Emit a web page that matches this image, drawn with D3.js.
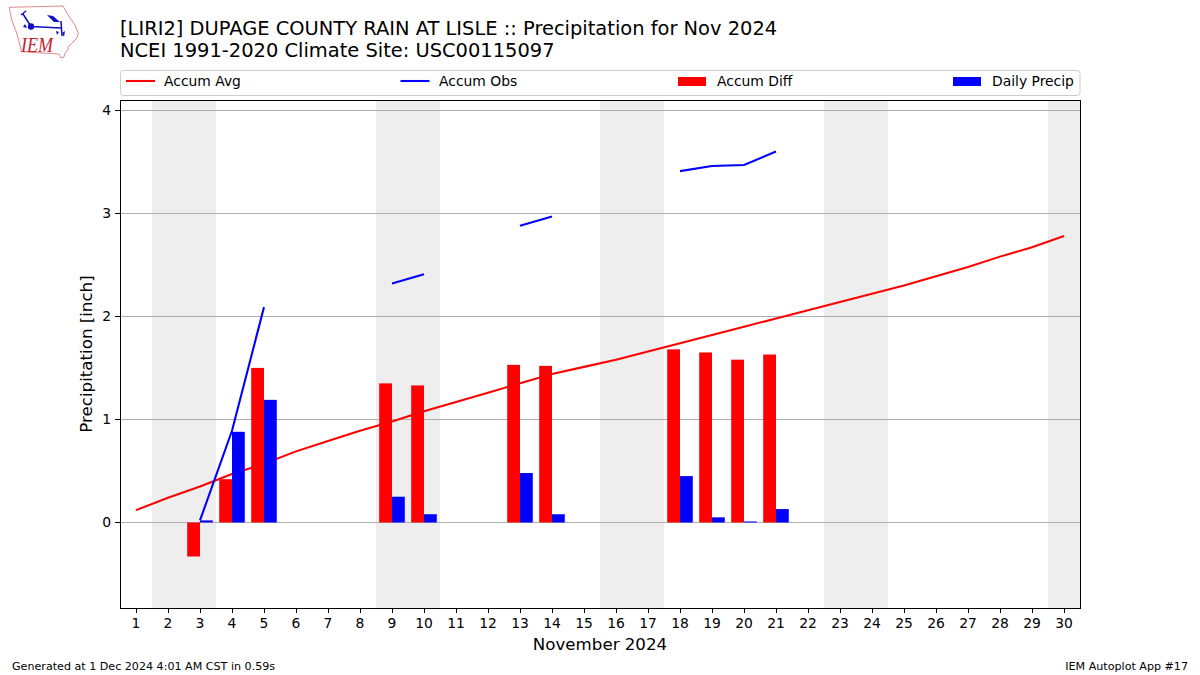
<!DOCTYPE html>
<html>
<head>
<meta charset="utf-8">
<script src="https://cdn.jsdelivr.net/npm/d3@7"></script>
<style>
  body { margin: 0; background: #fff; }
  text { font-family: "DejaVu Sans", sans-serif; fill: #000; }
</style>
</head>
<body>
<svg id="chart" width="1200" height="675"></svg>
<script>
const days = d3.range(1, 31);
const accumAvg = [0.12, 0.24, 0.35, 0.47, 0.57, 0.69, 0.79, 0.89, 0.98, 1.08, 1.17, 1.26, 1.35, 1.44, 1.51,
                  1.58, 1.66, 1.74, 1.82, 1.90, 1.98, 2.06, 2.14, 2.22, 2.30, 2.39, 2.48, 2.58, 2.67, 2.78];
const accumObs = [null, null, 0.02, 0.89, 2.09, null, null, null, 2.32, 2.41, null, null, 2.88, 2.97, null,
                  null, null, 3.41, 3.46, 3.47, 3.60, null, null, null, null, null, null, null, null, null];
const accumDiff = [null, null, -0.33, 0.42, 1.50, null, null, null, 1.35, 1.33, null, null, 1.53, 1.52, null,
                   null, null, 1.68, 1.65, 1.58, 1.63, null, null, null, null, null, null, null, null, null];
const dailyPrecip = [null, null, 0.02, 0.88, 1.19, null, null, null, 0.25, 0.08, null, null, 0.48, 0.08, null,
                     null, null, 0.45, 0.05, 0.01, 0.13, null, null, null, null, null, null, null, null, null];
const weekends = [[1.5, 3.5], [8.5, 10.5], [15.5, 17.5], [22.5, 24.5], [29.5, 30.5]];
const yTicks = [0, 1, 2, 3, 4];

const svg = d3.select("#chart");
const left = 120, right = 1080, top_ = 100, bottom = 608;

const x = d3.scaleLinear().domain([0.5, 30.5]).range([left, right]);
const y = d3.scaleLinear().domain([-0.83, 4.1]).range([bottom, top_]);
const barW = x(1.4) - x(1);
const crisp = v => Math.floor(v) + 0.5;

// weekend bands
svg.append("g").selectAll("rect").data(weekends).join("rect")
    .attr("x", d => x(d[0]))
    .attr("width", d => x(d[1]) - x(d[0]))
    .attr("y", top_)
    .attr("height", bottom - top_)
    .attr("fill", "#eeeeee");

// grid
svg.append("g").selectAll("line").data(yTicks).join("line")
    .attr("x1", left).attr("x2", right)
    .attr("y1", d => crisp(y(d))).attr("y2", d => crisp(y(d)))
    .attr("stroke", "#b0b0b0").attr("stroke-width", 1);

// lines
const line = d3.line().defined(d => d[1] != null).x(d => x(d[0])).y(d => y(d[1]));
svg.append("path").attr("d", line(days.map((d, i) => [d, accumAvg[i]])))
    .attr("fill", "none").attr("stroke", "#ff0000").attr("stroke-width", 2.08);
svg.append("path").attr("d", line(days.map((d, i) => [d, accumObs[i]])))
    .attr("fill", "none").attr("stroke", "#0000ff").attr("stroke-width", 2.08);

// bars
svg.append("g").selectAll("rect").data(days.filter((d, i) => accumDiff[i] != null)).join("rect")
    .attr("x", d => x(d) - barW)
    .attr("width", barW)
    .attr("y", d => Math.min(y(0), y(accumDiff[d - 1])))
    .attr("height", d => Math.abs(y(0) - y(accumDiff[d - 1])))
    .attr("fill", "#ff0000");
svg.append("g").selectAll("rect").data(days.filter((d, i) => dailyPrecip[i] != null)).join("rect")
    .attr("x", d => x(d))
    .attr("width", barW)
    .attr("y", d => y(dailyPrecip[d - 1]))
    .attr("height", d => y(0) - y(dailyPrecip[d - 1]))
    .attr("fill", "#0000ff");

// axes
const xAxis = svg.append("g").attr("transform", `translate(0,${bottom})`)
    .call(d3.axisBottom(x).tickValues(days).tickFormat(d3.format("d")).tickSize(5).tickPadding(5).offset(0));
xAxis.selectAll("line").attr("transform", "translate(0.5,0)");
const yAxis = svg.append("g").attr("transform", `translate(${left},0)`)
    .call(d3.axisLeft(y).tickValues(yTicks).tickFormat(d3.format("d")).tickSize(5).tickPadding(4).offset(0));
yAxis.selectAll("line").attr("transform", d => `translate(0,${crisp(y(d)) - y(d)})`);
[xAxis, yAxis].forEach(a => {
    a.selectAll("text").style("font-size", "13.89px").style("font-family", '"DejaVu Sans"');
    a.selectAll("line").attr("stroke", "#000").attr("stroke-width", 1);
    a.select(".domain").remove();
});
svg.append("rect").attr("x", left + 0.5).attr("y", top_ + 0.5)
    .attr("width", right - left).attr("height", bottom - top_)
    .attr("fill", "none").attr("stroke", "#000").attr("stroke-width", 1);

// titles
svg.append("text").attr("x", 120).attr("y", 35).style("font-size", "19.44px")
    .text("[LIRI2] DUPAGE COUNTY RAIN AT LISLE :: Precipitation for Nov 2024");
svg.append("text").attr("x", 120).attr("y", 57).style("font-size", "19.44px")
    .text("NCEI 1991-2020 Climate Site: USC00115097");
svg.append("text").attr("x", 600).attr("y", 649.5).attr("text-anchor", "middle").style("font-size", "16.67px")
    .text("November 2024");
svg.append("text").attr("transform", "translate(92,354) rotate(-90)").attr("text-anchor", "middle")
    .style("font-size", "16.67px").text("Precipitation [inch]");
svg.append("text").attr("x", 12).attr("y", 670).style("font-size", "11.11px")
    .text("Generated at 1 Dec 2024 4:01 AM CST in 0.59s");
svg.append("text").attr("x", 1188).attr("y", 670).attr("text-anchor", "end").style("font-size", "11.11px")
    .text("IEM Autoplot App #17");

// legend
svg.append("rect").attr("x", 120.5).attr("y", 70.5).attr("width", 959.5).attr("height", 25).attr("rx", 3)
    .attr("fill", "#fff").attr("stroke", "#cccccc");
const legendItems = [
    { label: "Accum Avg", kind: "line", color: "#ff0000", hx: 126, tx: 164 },
    { label: "Accum Obs", kind: "line", color: "#0000ff", hx: 400.5, tx: 439 },
    { label: "Accum Diff", kind: "bar", color: "#ff0000", hx: 678, tx: 717 },
    { label: "Daily Precip", kind: "bar", color: "#0000ff", hx: 953, tx: 992 }
];
legendItems.forEach(d => {
    if (d.kind === "line") {
        svg.append("line").attr("x1", d.hx).attr("x2", d.hx + 29).attr("y1", 81).attr("y2", 81)
            .attr("stroke", d.color).attr("stroke-width", 2.08);
    } else {
        svg.append("rect").attr("x", d.hx).attr("y", 77).attr("width", 28).attr("height", 9).attr("fill", d.color);
    }
    svg.append("text").attr("x", d.tx).attr("y", 86).style("font-size", "13.89px").text(d.label);
});

// logo
const logo = svg.append("g");
logo.append("path")
    .attr("d", "M9.3,7.3 L63,6 L68,15 L75,25 L78.3,33 L77,38 L68,47 L68,50 L65,53 L64,57 L61,58 L59,54 L21.7,51.7 L16.7,33 L11.7,20 Z")
    .attr("fill", "none").attr("stroke", "#e08a8a").attr("stroke-width", 1);
logo.append("text").attr("x", 21).attr("y", 52).attr("textLength", 32).attr("lengthAdjust", "spacingAndGlyphs")
    .style("font-family", '"Liberation Serif"').style("font-style", "italic").style("font-size", "21px")
    .style("fill", "#c8202c").text("IEM");
logo.append("circle").attr("cx", 31).attr("cy", 26.5).attr("r", 3.2).attr("fill", "#1010c8");
logo.append("path").attr("d", "M31,26.5 L61,28 M61,21 L62,36 M31,26.5 L23,14 M21,15 L26,11")
    .attr("fill", "none").attr("stroke", "#1010c8").attr("stroke-width", 1.5);
logo.append("path").attr("d", "M47,15 L53,16 L60,22 L54,22 Z M56,31 L59,32 L57,35 Z M62,33 L65,31 L64,37 Z M23,27 L25,24 L27,28 Z")
    .attr("fill", "#1010c8");
</script>
</body>
</html>
